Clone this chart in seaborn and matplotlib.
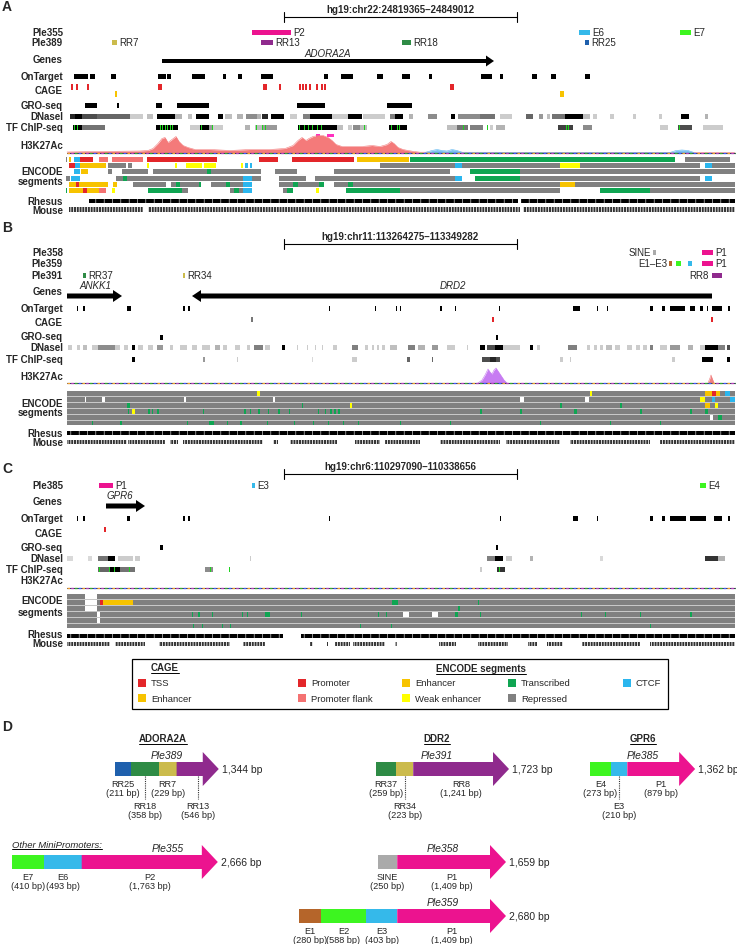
import matplotlib
matplotlib.use("Agg")
import matplotlib.pyplot as plt
from matplotlib.patches import Rectangle, Polygon
import seaborn as sns
import numpy as np
import pandas as pd

sns.set_theme(style="white")
plt.rcParams['font.family'] = ['Liberation Sans', 'DejaVu Sans']

# ------------------------------------------------------------------ colours
COL = {
    'P1': '#ec138f', 'P2': '#ec138f', 'E6': '#35b9ea', 'E3': '#35b9ea',
    'E7': '#3df520', 'E4': '#3df520', 'E2': '#3df520', 'RR7': '#cbbb4c',
    'RR34': '#cbbb4c', 'RR13': '#8f2a8d', 'RR8': '#8f2a8d', 'RR18': '#2e8b45',
    'RR37': '#2e8b45', 'RR25': '#1f60ad', 'E1': '#b5652a', 'SINE': '#aaaaaa',
}
ENC = {'P': '#e3262a', 'F': '#f47272', 'E': '#f7c300', 'W': '#ffff00',
       'T': '#0fa552', 'C': '#2bb6ee', 'R': '#808080', 'N': '#ffffff'}

# ================================================================== PANEL A
A_REGION = "hg19:chr22:24819365\u201324849012"
A_PLE355 = [("P2", 252, 291), ("E6", 579, 590), ("E7", 680, 691)]
A_PLE389 = [("RR7", 112, 117), ("RR13", 261, 273), ("RR18", 402, 411), ("RR25", 585, 589)]
A_GENES = [("ADORA2A", 162, 494, 1, 328)]
A_ONTARGET = [(74, 88), (90, 95), (111, 116), (158, 166), (167, 171), (192, 205), (223, 226),
              (238, 242), (261, 273), (324, 328), (341, 353), (377, 383), (402, 410), (429, 432),
              (481, 492), (500, 503), (532, 537), (551, 556), (585, 590)]
A_CAGE_TSS = [72, 77, 88, 159, 161, 264, 266, 280, 300, 303, 306, 310, 317, 322, 325, 451, 453]
A_CAGE_ENH = [(115, 117), (560, 564)]
A_GRO = [(85, 97), (117, 119), (156, 162), (177, 209), (297, 325), (387, 412)]
A_DNASE = [(70, 75, .15), (75, 82, 0), (82, 97, .3), (97, 130, .4), (130, 143, .8), (147, 153, .75),
           (157, 175, 0), (175, 182, .7), (188, 192, .75), (196, 209, 0), (218, 223, 0),
           (225, 232, .75), (237, 243, .7), (246, 257, .55), (257, 261, .7), (262, 268, .15),
           (271, 284, 0), (290, 297, .8), (303, 310, .5), (310, 332, 0), (332, 348, .8),
           (348, 362, 0), (363, 385, .8), (390, 395, .5), (395, 403, 0), (409, 413, .7),
           (428, 437, .55), (451, 455, 0), (458, 480, .55), (480, 495, .45), (500, 512, .8),
           (526, 533, .4), (539, 543, .6), (547, 550, .75), (552, 565, .45), (565, 583, 0),
           (583, 590, .75), (593, 597, .8), (610, 614, .8), (633, 636, .8), (659, 662, .8),
           (681, 689, 0), (705, 708, .7)]
A_TF = [(73, 82, 0), (82, 105, .45), (156, 178, 0), (190, 200, .8), (200, 209, 0), (209, 213, .6),
        (213, 223, .8), (245, 250, .7), (255, 263, .75), (263, 277, .6), (298, 337, 0),
        (337, 343, .75), (348, 352, .8), (353, 360, .55), (360, 367, .75), (389, 407, 0),
        (447, 457, .75), (457, 468, .45), (470, 483, .5), (490, 493, .8), (496, 505, .7),
        (558, 573, .25), (583, 592, .55), (660, 668, .8), (678, 692, .3), (703, 723, .8)]
A_TF_GREEN = [75, 78, 161, 163, 166, 168, 171, 173, 202, 213, 257, 263, 266, 300, 305, 309, 313,
              318, 322, 365, 392, 398, 400, 464, 488, 567, 569, 680]
A_H3K_X = [67, 100, 140, 148, 153, 158, 162, 165, 168, 172, 176, 179, 183, 188, 195, 210, 230,
           250, 270, 285, 293, 298, 302, 306, 309, 313, 318, 323, 328, 332, 336, 342, 352, 362,
           372, 380, 387, 391, 394, 398, 403, 408, 414, 420, 735]
A_H3K_Y = [0.5, 1, 1.5, 2, 4, 9, 14, 15, 10, 13, 16, 11, 7, 5, 3, 3, 2, 3, 3, 4, 7, 12, 15, 12,
           14, 16, 17, 17, 15, 12, 8, 6, 6, 6, 7, 6, 8, 11, 9, 5, 3, 2, 1, 0.3, 0]
A_H3K_BLUE_X = [425, 432, 437, 442, 447, 452, 457, 463, 670, 676, 682, 688, 694]
A_H3K_BLUE_Y = [0, 2, 3, 2, 1.5, 3, 2, 0, 0, 2, 2.5, 2, 0]
A_H3K_CLIP = [(316, 320), (327, 334)]
A_ENCODE = [
    [(66, 67, 'R'), (69, 71, 'E'), (74, 80, 'C'), (80, 93, 'P'), (99, 108, 'F'), (112, 143, 'F'),
     (147, 217, 'P'), (259, 278, 'P'), (292, 354, 'P'), (357, 409, 'E'), (410, 675, 'T'),
     (685, 730, 'R')],
    [(69, 75, 'P'), (75, 80, 'C'), (80, 106, 'E'), (108, 126, 'R'), (128, 132, 'R'),
     (147, 149, 'W'), (175, 177, 'W'), (186, 202, 'W'), (204, 216, 'W'), (241, 243, 'W'),
     (245, 248, 'C'), (250, 252, 'C'), (380, 455, 'R'), (455, 462, 'C'), (462, 560, 'R'),
     (560, 580, 'W'), (580, 700, 'R'), (705, 712, 'C'), (712, 735, 'R')],
    [(74, 80, 'C'), (81, 88, 'E'), (108, 112, 'R'), (122, 148, 'R'), (153, 207, 'R'),
     (207, 211, 'T'), (211, 261, 'R'), (275, 297, 'R'), (334, 450, 'R'), (470, 520, 'T'),
     (520, 735, 'R')],
    [(66, 70, 'R'), (71, 80, 'C'), (116, 123, 'R'), (123, 127, 'T'), (127, 243, 'R'),
     (243, 252, 'C'), (252, 261, 'R'), (279, 306, 'R'), (315, 455, 'R'), (455, 462, 'C'),
     (475, 520, 'T'), (520, 700, 'R'), (705, 712, 'C')],
    [(69, 76, 'E'), (76, 79, 'P'), (79, 108, 'E'), (113, 117, 'E'), (133, 166, 'R'),
     (171, 176, 'R'), (176, 180, 'T'), (180, 199, 'R'), (199, 201, 'T'), (211, 226, 'R'),
     (226, 230, 'T'), (230, 243, 'R'), (243, 252, 'C'), (279, 293, 'R'), (293, 298, 'T'),
     (298, 319, 'R'), (319, 324, 'T'), (334, 348, 'R'), (348, 353, 'T'), (353, 560, 'R'),
     (560, 575, 'E'), (575, 735, 'R')],
    [(66, 67, 'T'), (69, 83, 'E'), (83, 87, 'P'), (87, 99, 'E'), (99, 106, 'F'), (112, 115, 'W'),
     (148, 182, 'T'), (182, 188, 'R'), (230, 234, 'R'), (234, 239, 'T'), (239, 243, 'R'),
     (243, 252, 'C'), (283, 287, 'R'), (287, 293, 'T'), (316, 319, 'W'), (346, 400, 'T'),
     (400, 560, 'R'), (600, 650, 'T'), (650, 735, 'R')],
]
A_RHESUS = [(89, 518), (521, 735)]
A_MOUSE = [(69, 143), (148, 520), (523, 735)]

# ================================================================== PANEL B
B_REGION = "hg19:chr11:113264275\u2013113349282"
B_PLE358 = [("SINE", 653, 656), ("P1", 702, 713)]
B_PLE359 = [("E1\u2013E3", 669, 672), ("E2", 676, 681), ("E3", 688, 692), ("P1", 702, 713)]
B_PLE391 = [("RR37", 83, 86), ("RR34", 183, 185), ("RR8", 712, 722)]
B_GENES = [("ANKK1", 67, 122, 1, 95), ("DRD2", 192, 712, -1, 453)]
B_ONTARGET = [(77, 78), (83, 85), (127, 131), (183, 185), (188, 190), (329, 330), (375, 376),
              (396, 397), (400, 401), (440, 442), (455, 456), (499, 500), (573, 580), (597, 598),
              (607, 608), (650, 653), (662, 665), (670, 685), (690, 695), (700, 703), (707, 708),
              (712, 722), (728, 730)]
B_CAGE_GREY = [252]
B_CAGE_TSS = [493, 712]
B_GRO = [(160, 163), (496, 498)]
B_DNASE = [(68, 72, .8), (77, 80, .8), (83, 87, .75), (92, 98, .8), (98, 115, .55), (115, 120, .8),
           (124, 128, .8), (132, 135, 0), (138, 143, .8), (148, 153, .8), (157, 163, .6),
           (170, 173, .8), (180, 187, .8), (192, 197, .8), (202, 210, .8), (215, 220, .7),
           (223, 227, .8), (235, 240, .8), (247, 250, .8), (254, 263, .5), (265, 270, .8),
           (282, 285, 0), (297, 298, .8), (307, 308, .8), (315, 316, .8), (322, 323, .8),
           (333, 337, .8), (352, 358, .5), (365, 368, .8), (372, 374, .8), (377, 379, .8),
           (382, 385, .8), (390, 397, .75), (408, 415, .5), (418, 425, .7), (432, 438, .6),
           (447, 455, .8), (467, 468, .8), (480, 485, 0), (487, 495, .3), (495, 503, 0),
           (503, 520, .8), (530, 533, 0), (537, 540, .8), (568, 577, .5), (587, 590, .8),
           (594, 597, .8), (600, 603, .8), (606, 612, .75), (615, 620, .8), (627, 632, .8),
           (636, 640, .8), (643, 647, .8), (650, 653, .5), (660, 667, .8), (670, 680, .6),
           (688, 693, .7), (700, 705, .8), (705, 718, 0), (718, 725, .5), (727, 730, .3)]
B_TF = [(132, 135, 0), (203, 205, .6), (237, 238, .8), (312, 313, .85), (352, 357, .8),
        (407, 410, .4), (432, 433, .4), (482, 490, .3), (490, 496, .15), (496, 500, .3),
        (560, 563, .8), (570, 571, .8), (672, 675, .8), (702, 713, 0), (727, 730, 0)]
B_H3K_X = [478, 482, 485, 488, 490, 492, 494, 496, 498, 500, 502, 504, 507]
B_H3K_Y = [0, 3, 8, 14, 11, 9, 13, 15, 12, 9, 6, 3, 0]
B_H3K_PINK_X = [708, 710, 711, 712, 714]
B_H3K_PINK_Y = [0, 5, 8, 5, 0]
B_ENC_MARKS = [
    [(257, 260, 'W'), (590, 592, 'W'), (705, 712, 'E'), (712, 716, 'P'), (716, 720, 'E'),
     (725, 730, 'C')],
    [(85, 86, 'N'), (102, 105, 'N'), (184, 186, 'N'), (273, 275, 'N'), (520, 524, 'N'),
     (585, 589, 'N'), (700, 705, 'W'), (712, 715, 'C'), (730, 735, 'C')],
    [(127, 130, 'T'), (302, 303, 'T'), (350, 352, 'W'), (560, 562, 'T'), (620, 622, 'T'),
     (705, 710, 'E'), (715, 718, 'W')],
    [(128, 129, 'T'), (132, 135, 'W'), (148, 150, 'T'), (152, 153, 'T'), (157, 159, 'T'),
     (203, 204, 'T'), (244, 246, 'T'), (250, 251, 'T'), (258, 260, 'T'), (268, 269, 'T'),
     (278, 280, 'T'), (289, 290, 'T'), (318, 319, 'T'), (325, 326, 'T'), (330, 332, 'T'),
     (334, 336, 'T'), (338, 340, 'T'), (480, 482, 'T'), (520, 522, 'T'), (574, 577, 'T'),
     (640, 642, 'T'), (690, 692, 'T'), (705, 708, 'T')],
    [(710, 713, 'N'), (718, 722, 'T')],
    [(92, 93, 'T'), (120, 122, 'T'), (187, 188, 'T'), (209, 214, 'T'), (227, 228, 'T'),
     (240, 242, 'T'), (267, 268, 'T'), (294, 295, 'T'), (313, 314, 'T'), (328, 329, 'T'),
     (343, 344, 'T'), (358, 359, 'T'), (400, 401, 'T'), (450, 451, 'T'), (540, 541, 'T'),
     (610, 611, 'T'), (660, 661, 'T')],
]
B_RHESUS = [(67, 735)]
B_MOUSE = [(67, 127), (128, 165), (170, 178), (183, 263), (273, 278), (290, 337), (355, 380),
           (385, 420), (440, 500), (506, 560), (570, 650), (660, 735)]

# ================================================================== PANEL C
C_REGION = "hg19:chr6:110297090\u2013110338656"
C_PLE385 = [("P1", 99, 113), ("E3", 252, 255), ("E4", 700, 706)]
C_GENES = [("GPR6", 106, 145, 1, 120)]
C_ONTARGET = [(77, 78), (83, 85), (127, 130), (183, 185), (188, 190), (329, 330), (500, 501),
              (573, 578), (597, 598), (650, 653), (662, 665), (670, 686), (690, 706),
              (714, 722), (728, 730)]
C_CAGE_TSS = [105]
C_GRO = [(160, 163), (496, 498)]
C_DNASE = [(67, 73, .85), (88, 92, .85), (98, 108, .45), (108, 115, 0), (118, 133, .8),
           (135, 140, .8), (250, 251, .8), (487, 495, .5), (495, 503, 0), (506, 512, .8),
           (530, 533, .7), (600, 603, .85), (705, 718, .2), (718, 725, .7)]
C_TF = [(98, 110, .4), (110, 120, 0), (120, 135, .45), (205, 213, .55), (480, 482, .8),
        (497, 505, .2)]
C_TF_GREEN = [100, 110, 115, 130, 211, 230, 500]
C_ENC_MARKS = [
    [(85, 97, 'N')],
    [(85, 97, 'N'), (100, 103, 'P'), (103, 133, 'E'), (392, 398, 'T'), (478, 479, 'T')],
    [(85, 97, 'N'), (458, 460, 'T')],
    [(97, 100, 'N'), (192, 193, 'T'), (198, 200, 'T'), (212, 213, 'T'), (242, 243, 'T'),
     (247, 248, 'T'), (265, 270, 'T'), (301, 302, 'T'), (378, 379, 'T'), (386, 387, 'T'),
     (403, 409, 'N'), (432, 438, 'N'), (455, 458, 'T'), (480, 481, 'T'), (581, 582, 'T'),
     (605, 606, 'T'), (640, 641, 'T'), (690, 692, 'T')],
    [(97, 100, 'N')],
    [(193, 194, 'T'), (202, 203, 'T'), (222, 223, 'T'), (230, 231, 'T'), (360, 361, 'T'),
     (391, 392, 'T'), (650, 651, 'T')],
]
C_RHESUS = [(67, 283), (301, 735)]
C_MOUSE = [(67, 110), (115, 145), (159, 230), (243, 265), (310, 313), (327, 328), (335, 350),
           (353, 385), (395, 397), (439, 456), (478, 508), (528, 537), (547, 563), (582, 640),
           (650, 735)]

# ================================================================== LEGEND
LEG_CAGE = [("TSS", 'P'), ("Enhancer", 'E')]
LEG_ENC = [("Promoter", 'P'), ("Promoter flank", 'F'), ("Enhancer", 'E'),
           ("Weak enhancer", 'W'), ("Transcribed", 'T'), ("Repressed", 'R'), ("CTCF", 'C')]

# ================================================================== PANEL D
D_ADORA = [("RR25", 211), ("RR18", 358), ("RR7", 229), ("RR13", 546)]
D_DDR2 = [("RR37", 259), ("RR34", 223), ("RR8", 1241)]
D_GPR6 = [("E4", 273), ("E3", 210), ("P1", 879)]
D_PLE355 = [("E7", 410), ("E6", 493), ("P2", 1763)]
D_PLE358 = [("SINE", 250), ("P1", 1409)]
D_PLE359 = [("E1", 280), ("E2", 588), ("E3", 403), ("P1", 1409)]

# ------------------------------------------------------------------ figure
fig = plt.figure(figsize=(7.37, 9.45), dpi=100)
ax = fig.add_axes([0, 0, 1, 1])
LX = 63
TRACK_X0, TRACK_X1 = 67, 735


def label(txt, y, **kw):
    ax.text(LX, y, txt, ha='right', va='center', fontsize=7, fontweight='bold', **kw)


def rect(x0, x1, y, h, color):
    ax.add_patch(Rectangle((x0, y - h / 2), max(x1 - x0, 1.0), h, facecolor=color,
                           edgecolor='none', lw=0))


def panel_letter(t, y):
    ax.text(2, y, t, fontsize=10, fontweight='bold', ha='left', va='center')


def scalebar(txt, y):
    ax.plot([284, 517], [y, y], color='black', lw=0.8)
    ax.plot([284, 284], [y - 5, y + 5], color='black', lw=0.8)
    ax.plot([517, 517], [y - 5, y + 5], color='black', lw=0.8)
    ax.text(400, y - 8, txt, ha='center', va='center', fontsize=7, fontweight='bold')


def elements(items, y, h=5, left_labels=()):
    for name, s, e in items:
        rect(s, e, y, h, COL[name])
        if name in left_labels:
            ax.text(s - 1.5, y, name, ha='right', va='center', fontsize=7)
        else:
            ax.text(e + 2, y, name, ha='left', va='center', fontsize=7)


def gene(items, y, t, hh, hl, ly):
    for name, s, e, strand, lx in items:
        if strand > 0:
            pts = [(s, y - t / 2), (e - hl, y - t / 2), (e - hl, y - hh / 2), (e, y),
                   (e - hl, y + hh / 2), (e - hl, y + t / 2), (s, y + t / 2)]
        else:
            pts = [(e, y - t / 2), (s + hl, y - t / 2), (s + hl, y - hh / 2), (s, y),
                   (s + hl, y + hh / 2), (s + hl, y + t / 2), (e, y + t / 2)]
        ax.add_patch(Polygon(pts, closed=True, facecolor='black', edgecolor='none'))
        ax.text(lx, ly, name, ha='center', va='center', fontsize=7, style='italic')


def blocks(items, y, h, color='black'):
    for s, e in items:
        rect(s, e, y, h, color)


def ticks(xs, y, h, color, w=1.2):
    for x in xs:
        rect(x - w / 2, x + w / 2, y, h, color)


def shaded(items, y, h):
    for s, e, g in items:
        rect(s, e, y, h, str(g))


def baseline(y):
    ax.plot([TRACK_X0, TRACK_X1], [y, y], color='#3a3a5a', lw=0.8, zorder=3)
    for off, c in [(0, '#f0a030'), (3, '#4060ff'), (6, '#30b030'), (9, '#c040c0')]:
        ax.plot([TRACK_X0, TRACK_X1], [y, y], color=c, lw=0.9,
                linestyle=(off, (2, 10)), zorder=4)


def signal(xs, ys, base, color, alpha=1.0):
    df = pd.DataFrame({'pos': xs, 'top': [base - v for v in ys]})
    ax.fill_between(df['pos'], base, df['top'], color=color, lw=0, alpha=alpha, zorder=2)
    sns.lineplot(data=df, x='pos', y='top', ax=ax, color=color, lw=0.4, zorder=2)


def encode_rows(rows, top, rh, gap, bg=False):
    if bg:
        ax.add_patch(Rectangle((TRACK_X0, top), TRACK_X1 - TRACK_X0, len(rows) * (rh + gap) - gap,
                               facecolor='#c8c8c8', edgecolor='none'))
    for i, row in enumerate(rows):
        yc = top + i * (rh + gap) + rh / 2
        if bg:
            rect(TRACK_X0, TRACK_X1, yc, rh, ENC['R'])
        for s, e, c in row:
            rect(s, e, yc, rh, ENC[c])


def barcode(items, y, h, face, hatch, hcol, lw):
    for s, e in items:
        p = Rectangle((s, y - h / 2), e - s, h, facecolor=face, edgecolor=hcol, lw=0,
                      hatch=hatch)
        try:
            p.set_hatch_linewidth(lw)
        except AttributeError:
            pass
        ax.add_patch(p)


# ------------------------------------------------------------------ PANEL A
panel_letter('A', 7)
scalebar(A_REGION, 18)
for t, y in [("Ple355", 33), ("Ple389", 43), ("Genes", 60), ("OnTarget", 77), ("CAGE", 91),
             ("GRO-seq", 106), ("DNaseI", 117), ("TF ChIP-seq", 128), ("H3K27Ac", 146),
             ("ENCODE", 172), ("segments", 182), ("Rhesus", 202), ("Mouse", 211)]:
    label(t, y)
elements(A_PLE355, 33)
elements(A_PLE389, 43.5)
gene(A_GENES, 62, 4, 11, 8, 54)
blocks(A_ONTARGET, 77, 5)
ticks(A_CAGE_TSS, 88, 5.5, ENC['P'])
blocks(A_CAGE_ENH, 95, 5.5, ENC['E'])
blocks(A_GRO, 106, 5)
shaded(A_DNASE, 117, 5)
shaded(A_TF, 128, 5)
ticks(A_TF_GREEN, 128, 5, '#1ed21e', 1.0)
signal(A_H3K_X, A_H3K_Y, 153.5, '#f47a7a')
signal(A_H3K_BLUE_X, A_H3K_BLUE_Y, 153.5, '#5ab4f0', 0.8)
blocks(A_H3K_CLIP, 136.5, 2.5, '#ff30c0')
baseline(153.5)
encode_rows(A_ENCODE, 158, 5, 1.2)
barcode(A_RHESUS, 202, 4.5, 'black', '||', 'white', 0.4)
barcode(A_MOUSE, 210.5, 4.5, '#333333', '||||||', 'white', 0.6)

# ------------------------------------------------------------------ PANEL B
panel_letter('B', 228)
scalebar(B_REGION, 245)
for t, y in [("Ple358", 253), ("Ple359", 264), ("Ple391", 276), ("Genes", 292),
             ("OnTarget", 309), ("CAGE", 323), ("GRO-seq", 337), ("DNaseI", 348),
             ("TF ChIP-seq", 360), ("H3K27Ac", 377), ("ENCODE", 404), ("segments", 413),
             ("Rhesus", 434), ("Mouse", 443)]:
    label(t, y)
elements(B_PLE358, 253, left_labels=("SINE",))
for name, s, e in B_PLE359:
    key = name if name in COL else 'E1'
    rect(s, e, 264, 5, COL[key])
ax.text(B_PLE359[0][1] - 2, 264, B_PLE359[0][0], ha='right', va='center', fontsize=7)
ax.text(B_PLE359[-1][2] + 2, 264, "P1", ha='left', va='center', fontsize=7)
for name, s, e in B_PLE391:
    rect(s, e, 276, 5, COL[name])
    if name == "RR8":
        ax.text(s - 3, 276, name, ha='right', va='center', fontsize=7)
    else:
        ax.text(e + 2, 276, name, ha='left', va='center', fontsize=7)
gene(B_GENES, 297, 5, 12, 9, 286)
blocks(B_ONTARGET, 309, 5)
ticks(B_CAGE_GREY, 320, 5, '#777777')
ticks(B_CAGE_TSS, 320, 5, ENC['P'])
blocks(B_GRO, 338, 5)
shaded(B_DNASE, 348, 5)
shaded(B_TF, 360, 5)
signal(B_H3K_X, B_H3K_Y, 384, '#c77cf2')
signal(B_H3K_PINK_X, B_H3K_PINK_Y, 384, '#f08080')
baseline(384)
encode_rows(B_ENC_MARKS, 392, 4.9, 1.0, bg=True)
barcode(B_RHESUS, 434, 4.5, 'black', '||', 'white', 0.4)
barcode(B_MOUSE, 443, 4.5, '#333333', '||||||', 'white', 0.6)

# ------------------------------------------------------------------ PANEL C
panel_letter('C', 469)
scalebar(C_REGION, 475)
for t, y in [("Ple385", 486), ("Genes", 502), ("OnTarget", 519), ("CAGE", 534),
             ("GRO-seq", 548), ("DNaseI", 559), ("TF ChIP-seq", 570), ("H3K27Ac", 581),
             ("ENCODE", 601), ("segments", 613), ("Rhesus", 635), ("Mouse", 644)]:
    label(t, y)
elements(C_PLE385, 486)
gene(C_GENES, 507, 5, 12, 9, 496)
blocks(C_ONTARGET, 519, 5)
ticks(C_CAGE_TSS, 530, 5, ENC['P'])
blocks(C_GRO, 548, 5)
shaded(C_DNASE, 559, 5)
shaded(C_TF, 570, 5)
ticks(C_TF_GREEN, 570, 5, '#1ed21e', 1.0)
baseline(589)
encode_rows(C_ENC_MARKS, 595, 4.9, 1.0, bg=True)
barcode(C_RHESUS, 637, 4.5, 'black', '||', 'white', 0.4)
barcode(C_MOUSE, 645, 4.5, '#333333', '||||||', 'white', 0.6)

# ------------------------------------------------------------------ LEGEND
ax.add_patch(Rectangle((132, 660), 536, 50, facecolor='white', edgecolor='black', lw=0.9))
underline_texts = []
underline_texts.append(ax.text(151, 668, "CAGE", fontsize=7, fontweight='bold', va='center'))
underline_texts.append(ax.text(436, 669, "ENCODE segments", fontsize=7, fontweight='bold',
                               va='center'))
leg_pos_cage = [(138, 684), (138, 699)]
for (name, c), (x, y) in zip(LEG_CAGE, leg_pos_cage):
    rect(x, x + 8, y, 8, ENC[c])
    ax.text(x + 13, y, name, fontsize=6.8, va='center')
leg_pos_enc = [(298, 684), (298, 699), (402, 684), (402, 699), (508, 684), (508, 699),
               (623, 684)]
for (name, c), (x, y) in zip(LEG_ENC, leg_pos_enc):
    rect(x, x + 8, y, 8, ENC[c])
    ax.text(x + 13, y, name, fontsize=6.8, va='center')

# ------------------------------------------------------------------ PANEL D
panel_letter('D', 727)
BP = 0.0772
SH, HH, HL = 14, 34, 16
DFS = 6.6


def construct(parts, x0, yc, title, tx, lab_lo=()):
    x = x0
    total = sum(b for _, b in parts)
    for i, (name, bp) in enumerate(parts):
        w = bp * BP
        col = COL[name]
        if i < len(parts) - 1:
            ax.add_patch(Rectangle((x, yc - SH / 2), w, SH, facecolor=col, edgecolor='none'))
        else:
            e = x + w
            pts = [(x, yc - SH / 2), (e - HL, yc - SH / 2), (e - HL, yc - HH / 2), (e, yc),
                   (e - HL, yc + HH / 2), (e - HL, yc + SH / 2), (x, yc + SH / 2)]
            ax.add_patch(Polygon(pts, closed=True, facecolor=col, edgecolor='none'))
        cx = x + w / 2
        txt = f"{name}\n({bp:,} bp)"
        if name in lab_lo:
            ax.plot([cx, cx], [yc + SH / 2, yc + 30], color='#333333', lw=0.8,
                    ls=(0, (1, 1)))
            ax.text(cx, yc + 32, txt, ha='center', va='top', fontsize=DFS, linespacing=0.95)
        else:
            ax.text(cx, yc + 10, txt, ha='center', va='top', fontsize=DFS, linespacing=0.95)
        x += w
    ax.text(x + 3, yc, f"{total:,} bp", ha='left', va='center', fontsize=7.5)
    ax.text(tx, yc - 14, title, ha='center', va='center', fontsize=7.5, style='italic')


construct(D_ADORA, 115, 770, "Ple389", 167, lab_lo=("RR18", "RR13"))
construct(D_DDR2, 376, 770, "Ple391", 437, lab_lo=("RR34",))
construct(D_GPR6, 590, 770, "Ple385", 643, lab_lo=("E3",))
construct(D_PLE355, 12, 863, "Ple355", 168)
t358 = sum(b for _, b in D_PLE358)
t359 = sum(b for _, b in D_PLE359)
construct(D_PLE358, 506 - t358 * BP, 863, "Ple358", 443)
construct(D_PLE359, 506 - t359 * BP, 917, "Ple359", 443)

for t, x in [("ADORA2A", 163), ("DDR2", 437), ("GPR6", 643)]:
    underline_texts.append(ax.text(x, 739, t, ha='center', va='center', fontsize=7,
                                   fontweight='bold'))
underline_texts.append(ax.text(12, 845, "Other MiniPromoters:", ha='left', va='center',
                               fontsize=6.8, style='italic'))

ax.set_xlim(0, 737)
ax.set_ylim(945, 0)
ax.axis('off')

fig.canvas.draw()
inv = ax.transData.inverted()
for t in underline_texts:
    bb = t.get_window_extent()
    (x0, y0), (x1, y1) = inv.transform([(bb.x0, bb.y0), (bb.x1, bb.y1)])
    ax.plot([x0, x1], [y0 + 0.5, y0 + 0.5], color='black', lw=0.7)

ax.set_xlim(0, 737)
ax.set_ylim(945, 0)
fig.savefig("out.png", dpi=100)
